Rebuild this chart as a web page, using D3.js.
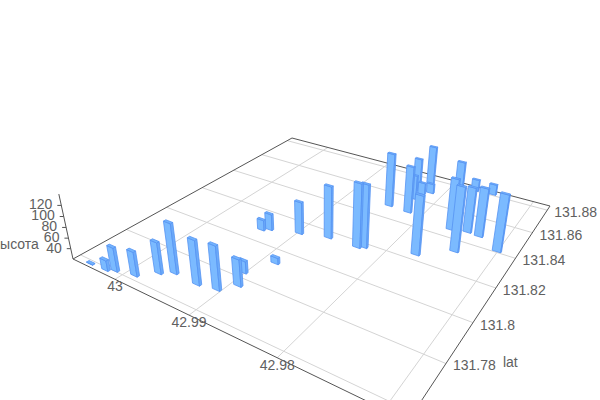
<!DOCTYPE html>
<html><head><meta charset="utf-8"><style>html,body{margin:0;background:#fff}svg{display:block}text{font-family:"Liberation Sans",Arial,sans-serif;font-size:14px;fill:#606060}</style></head>
<body><svg id="c" width="600" height="400"></svg>
<script src="https://cdn.jsdelivr.net/npm/d3@7"></script>
<script>
// data
const lons=[43.0043,43.0021,43.0012,42.9989,42.9972,42.9959,42.9927,42.9905,42.9892,42.9902,42.9885,42.9938,42.9931,42.9898,42.9866,42.9830,42.9824,42.9844,42.9818,42.9833,42.9828,42.9827,42.9824,42.9816,42.9771,42.9775,42.9760,42.9739,42.9771,42.9742,42.9728,42.9749,42.9701];
const lats=[131.7587,131.7591,131.7605,131.7622,131.7674,131.7702,131.7697,131.7711,131.7764,131.7829,131.7929,131.8074,131.8092,131.8130,131.8163,131.8165,131.8178,131.8495,131.8489,131.8673,131.8601,131.8768,131.8658,131.8685,131.8236,131.8645,131.8458,131.8328,131.8807,131.8475,131.8470,131.8813,131.8410];
const heights=[21,40,65,66,79,113,102,101,70,43,32,41,52,83,121,142,140,128,114,89,70,100,44,40,132,111,121,143,44,109,115,42,129];
const lonTicks=[43,42.99,42.98,42.97];
const latTicks=[131.76,131.78,131.8,131.82,131.84,131.86,131.88];
const heightTicks=[40,60,80,100,120];
const lonLabelled=[43,42.99,42.98];
const latLabelled=[131.78,131.8,131.82,131.84,131.86,131.88];

// camera: floor homography plus vertical vanishing direction
const Hm=[[147.94097,-241.97108,292],[26.77789,39.49986,138],[-0.20011,-0.31467,1]];
const vert=[322,1400,1], vk=-0.0369;
const uS=d3.scaleLinear().domain([43.00647,42.968]).range([0,1]);
const vS=d3.scaleLinear().domain([131.884,131.757]).range([0,1]);
const tS=d3.scaleLinear().domain([20,140]).range([0,1]);
const du=0.024, dv=0.008;
function projUV(u,v,t=0){
  const h=Hm.map(r=>r[0]*u+r[1]*v+r[2]);
  const q=vert.map((c,i)=>h[i]+t*vk*c);
  return [q[0]/q[2],q[1]/q[2]];
}
const P=(lon,lat,z)=>projUV(uS(lon),vS(lat),tS(z));
const [lon0,lon1]=uS.domain(), [lat0,lat1]=vS.domain(), [z0,z1]=tS.domain();
const svg=d3.select('#c');
const line=d3.line();
const poly=pts=>line(pts)+'Z';

const grid=svg.append('g').attr('fill','none').attr('stroke','#d4d4d4').attr('stroke-width',1);
lonTicks.forEach(l=>grid.append('path').attr('d',line([P(l,lat0,z0),P(l,lat1,z0)])));
latTicks.forEach(l=>grid.append('path').attr('d',line([P(lon0,l,z0),P(lon1,l,z0)])));

const ax=svg.append('g').attr('fill','none').attr('stroke','#555').attr('stroke-width',1);
ax.append('path').attr('d',poly([P(lon0,lat0,z0),P(lon1,lat0,z0),P(lon1,lat1,z0),P(lon0,lat1,z0)]));
ax.append('path').attr('d',line([P(lon0,lat1,z0),P(lon0,lat1,z1)]));
heightTicks.forEach(z=>{const p=P(lon0,lat1,z);ax.append('path').attr('d',line([p,[p[0]-4,p[1]]]));});

const lab=svg.append('g');
lonLabelled.forEach(l=>{const p=P(l,lat1,z0);lab.append('text').attr('x',p[0]).attr('y',p[1]+7).attr('text-anchor','middle').attr('dy','.35em').text(l);});
latLabelled.forEach(l=>{const p=P(lon1,l,z0);lab.append('text').attr('x',p[0]+7).attr('y',p[1]+2).attr('dy','.35em').text(l);});
heightTicks.forEach(z=>{const p=P(lon0,lat1,z);lab.append('text').attr('x',p[0]-9).attr('y',p[1]-1).attr('text-anchor','end').attr('dy','.35em').text(z);});
const latName=P(lon1,131.78,z0);
lab.append('text').attr('x',latName[0]+57).attr('y',latName[1]-1).attr('dy','.35em').text('lat');
const zName=P(lon0,lat1,48);
lab.append('text').attr('x',zName[0]-31).attr('y',zName[1]).attr('text-anchor','end').attr('dy','.35em').text('высота');

const bars=d3.range(lons.length).map(i=>({u:uS(lons[i]),v:vS(lats[i]),t:tS(heights[i])}));
const W=d=>Hm[2][0]*d.u+Hm[2][1]*d.v+Hm[2][2];
bars.sort((a,b)=>W(b)-W(a));
const g=svg.append('g').attr('stroke','#5593f3').attr('stroke-width',.8).attr('stroke-linejoin','round');
bars.forEach(d=>{
  const a=d.u-du/2,b=d.u+du/2,c=d.v-dv/2,e=d.v+dv/2;
  const front=[projUV(a,e),projUV(b,e),projUV(b,e,d.t),projUV(a,e,d.t)];
  const side=[projUV(b,e),projUV(b,c),projUV(b,c,d.t),projUV(b,e,d.t)];
  const top=[projUV(a,c,d.t),projUV(b,c,d.t),projUV(b,e,d.t),projUV(a,e,d.t)];
  g.append('path').attr('d',poly(front)).attr('fill','#7bbaff');
  g.append('path').attr('d',poly(side)).attr('fill','#6cabf9');
  g.append('path').attr('d',poly(top)).attr('fill','#74b5fd');
});
</script></body></html>
